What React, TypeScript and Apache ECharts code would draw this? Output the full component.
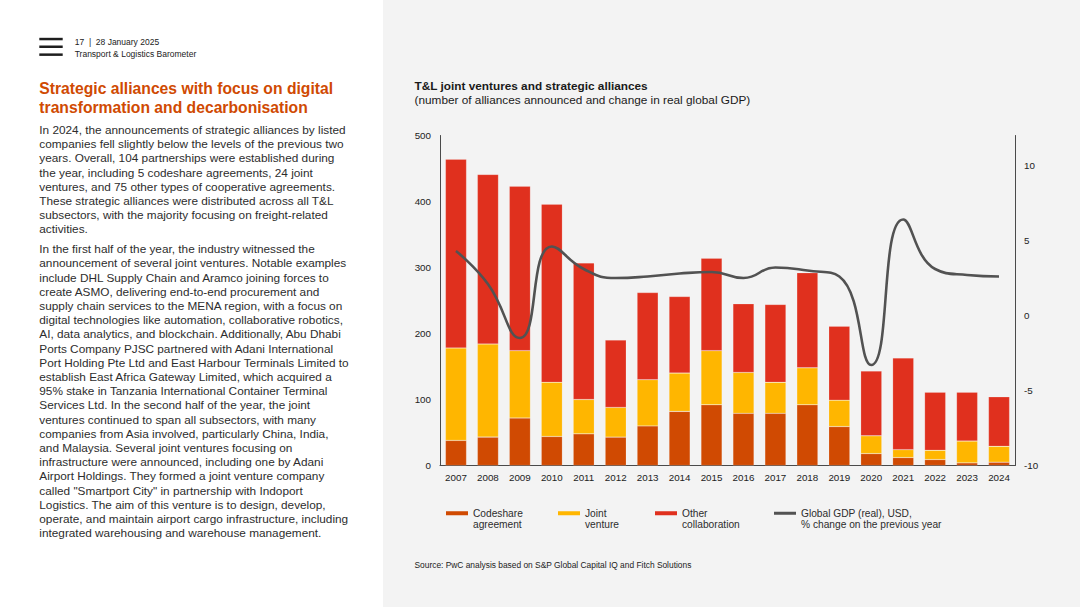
import React, { useEffect, useRef } from "react";
import * as echarts from "echarts";

const years = ["2007","2008","2009","2010","2011","2012","2013","2014","2015","2016","2017","2018","2019","2020","2021","2022","2023","2024"];
const codeshare = [38, 43, 72, 44, 48, 43, 60, 82, 92, 79, 79, 92, 59, 18, 12, 9, 4, 5];
const jointVenture = [140, 141, 102, 82, 52, 45, 70, 58, 82, 62, 47, 56, 40, 27, 12, 14, 33, 24];
const otherCollab = [286, 257, 249, 270, 207, 102, 132, 116, 140, 104, 118, 144, 112, 98, 139, 88, 74, 75];
const gdpChange = [4.3, 2.1, -1.5, 4.6, 3.1, 2.5, 2.6, 2.8, 2.9, 2.5, 3.2, 3.0, 2.6, -3.3, 6.4, 3.1, 2.7, 2.6];

const seriesNames = ["Codeshare agreement", "Joint venture", "Other collaboration", "Global GDP (real), USD, % change on the previous year"];
const legendLabels = ["Codeshare\nagreement", "Joint\nventure", "Other\ncollaboration", "Global GDP (real), USD,\n% change on the previous year"];

const headerLines = ["17  |  28 January 2025", "Transport & Logistics Barometer"];
const titleLines = ["Strategic alliances with focus on digital", "transformation and decarbonisation"];
const para1 = [
  "In 2024, the announcements of strategic alliances by listed",
  "companies fell slightly below the levels of the previous two",
  "years. Overall, 104 partnerships were established during",
  "the year, including 5 codeshare agreements, 24 joint",
  "ventures, and 75 other types of cooperative agreements.",
  "These strategic alliances were distributed across all T&L",
  "subsectors, with the majority focusing on freight-related",
  "activities.",
];
const para2 = [
  "In the first half of the year, the industry witnessed the",
  "announcement of several joint ventures. Notable examples",
  "include DHL Supply Chain and Aramco joining forces to",
  "create ASMO, delivering end-to-end procurement and",
  "supply chain services to the MENA region, with a focus on",
  "digital technologies like automation, collaborative robotics,",
  "AI, data analytics, and blockchain. Additionally, Abu Dhabi",
  "Ports Company PJSC partnered with Adani International",
  "Port Holding Pte Ltd and East Harbour Terminals Limited to",
  "establish East Africa Gateway Limited, which acquired a",
  "95% stake in Tanzania International Container Terminal",
  "Services Ltd. In the second half of the year, the joint",
  "ventures continued to span all subsectors, with many",
  "companies from Asia involved, particularly China, India,",
  "and Malaysia. Several joint ventures focusing on",
  "infrastructure were announced, including one by Adani",
  "Airport Holdings. They formed a joint venture company",
  "called \"Smartport City\" in partnership with Indoport",
  "Logistics. The aim of this venture is to design, develop,",
  "operate, and maintain airport cargo infrastructure, including",
  "integrated warehousing and warehouse management.",
];
const chartTitle = "T&L joint ventures and strategic alliances";
const chartSubtitle = "(number of alliances announced and change in real global GDP)";
const sourceText = "Source: PwC analysis based on S&P Global Capital IQ and Fitch Solutions";

const FONT = "'Liberation Sans', Arial, Helvetica, sans-serif";
const C_CODE = "#D04A02";
const C_JOINT = "#FFB600";
const C_OTHER = "#E0301E";
const C_GDP = "#525252";
const C_AXIS = "#4a4a4a";
const C_TEXT = "#2d2d2d";

export default function App() {
  const ref = useRef<HTMLDivElement>(null);

  useEffect(() => {
    if (!ref.current) return;
    const chart = echarts.init(ref.current, null, { renderer: "svg" });

    const legendPos = [446, 558, 655, 774];
    const legendColors = [C_CODE, C_JOINT, C_OTHER, C_GDP];
    // swatch aligned with first text line inside a 22px high item box
    const swatchIcon = (h: number) =>
      `path://M0,0h0.05v0.05h-0.05z M0,${5.5 - h / 2}h22v${h}h-22z M21.95,21.95h0.05v0.05h-0.05z`;

    const legends = seriesNames.map((name, i) => ({
      data: [name],
      left: legendPos[i],
      top: 507.8,
      padding: 0,
      orient: "horizontal",
      icon: swatchIcon(i === 3 ? 3 : 4),
      symbolKeepAspect: false,
      itemWidth: 22,
      itemHeight: 22,
      selectedMode: false,
      formatter: () => legendLabels[i],
      itemStyle: { color: legendColors[i], borderWidth: 0 },
      textStyle: {
        fontFamily: FONT,
        fontSize: 10.2,
        color: C_TEXT,
        lineHeight: 11,
      },
    }));

    const barBase = {
      type: "bar",
      stack: "total",
      barWidth: "66%",
      yAxisIndex: 0,
    };

    const textEl = (x: number, y: number, lines: string[], fontSize: number, lineHeight: number, color: string, weight: string = "normal") => ({
      type: "text",
      x,
      y,
      silent: true,
      style: {
        text: lines.join("\n"),
        fontFamily: FONT,
        fontSize,
        fontWeight: weight,
        lineHeight,
        fill: color,
        textVerticalAlign: "top",
        verticalAlign: "top",
        align: "left",
      },
    });

    chart.setOption({
      animation: false,
      backgroundColor: "transparent",
      textStyle: { fontFamily: FONT },
      grid: { left: 440, right: 65, top: 135.5, bottom: 141.5, containLabel: false },
      legend: legends,
      xAxis: {
        type: "category",
        data: years,
        axisLine: { show: true, lineStyle: { color: C_AXIS, width: 1 } },
        axisTick: { show: false },
        axisLabel: { color: "#222", fontSize: 9.8, margin: 7, fontFamily: FONT },
      },
      yAxis: [
        {
          type: "value",
          min: 0,
          max: 500,
          interval: 100,
          axisLine: { show: true, lineStyle: { color: C_AXIS, width: 1 } },
          axisTick: { show: false },
          splitLine: { show: false },
          axisLabel: { color: "#222", fontSize: 9.8, margin: 9, fontFamily: FONT },
        },
        {
          type: "value",
          position: "right",
          min: -10,
          max: 12,
          interval: 5,
          axisLine: { show: true, lineStyle: { color: C_AXIS, width: 1 } },
          axisTick: { show: false },
          splitLine: { show: false },
          axisLabel: { color: "#222", fontSize: 9.8, margin: 9, fontFamily: FONT, showMaxLabel: false },
        },
      ],
      series: [
        { ...barBase, name: seriesNames[0], data: codeshare, itemStyle: { color: C_CODE, borderColor: "rgba(255,255,255,0.35)", borderWidth: 0.5 } },
        { ...barBase, name: seriesNames[1], data: jointVenture, itemStyle: { color: C_JOINT, borderColor: "rgba(255,255,255,0.35)", borderWidth: 0.5 } },
        { ...barBase, name: seriesNames[2], data: otherCollab, itemStyle: { color: C_OTHER, borderColor: "rgba(255,255,255,0.35)", borderWidth: 0.5 } },
        {
          type: "line",
          name: seriesNames[3],
          yAxisIndex: 1,
          data: gdpChange,
          smooth: 0.5,
          symbol: "none",
          z: 5,
          itemStyle: { color: C_GDP },
          lineStyle: { color: C_GDP, width: 2.6 },
        },
      ],
      graphic: [
        { type: "rect", x: 39.3, y: 37.8, shape: { width: 23.4, height: 2.5 }, style: { fill: "#1e1e1e" } },
        { type: "rect", x: 39.3, y: 45.5, shape: { width: 23.4, height: 2.5 }, style: { fill: "#1e1e1e" } },
        { type: "rect", x: 39.3, y: 53.4, shape: { width: 23.4, height: 2.5 }, style: { fill: "#1e1e1e" } },
        textEl(74.7, 36.3, headerLines, 8.5, 12, "#222"),
        textEl(39.3, 78.8, titleLines, 15.7, 19, C_CODE, "bold"),
        textEl(39.3, 122.9, para1, 11.8, 14.2, C_TEXT),
        textEl(39.3, 242.2, para2, 11.8, 14.2, C_TEXT),
        textEl(414.5, 79, [chartTitle], 11.8, 14, "#1a1a1a", "bold"),
        textEl(414.5, 93, [chartSubtitle], 11.8, 14, "#1a1a1a"),
        textEl(414.5, 560, [sourceText], 8.4, 10, "#222"),
      ],
    });

    return () => chart.dispose();
  }, []);

  return (
    <div
      style={{
        position: "fixed",
        left: 0,
        top: 0,
        width: 1080,
        height: 607,
        background: "linear-gradient(to right, #ffffff 0px, #ffffff 383px, #f3f3f3 383px, #f3f3f3 100%)",
      }}
    >
      <div ref={ref} style={{ width: 1080, height: 607 }} />
    </div>
  );
}
